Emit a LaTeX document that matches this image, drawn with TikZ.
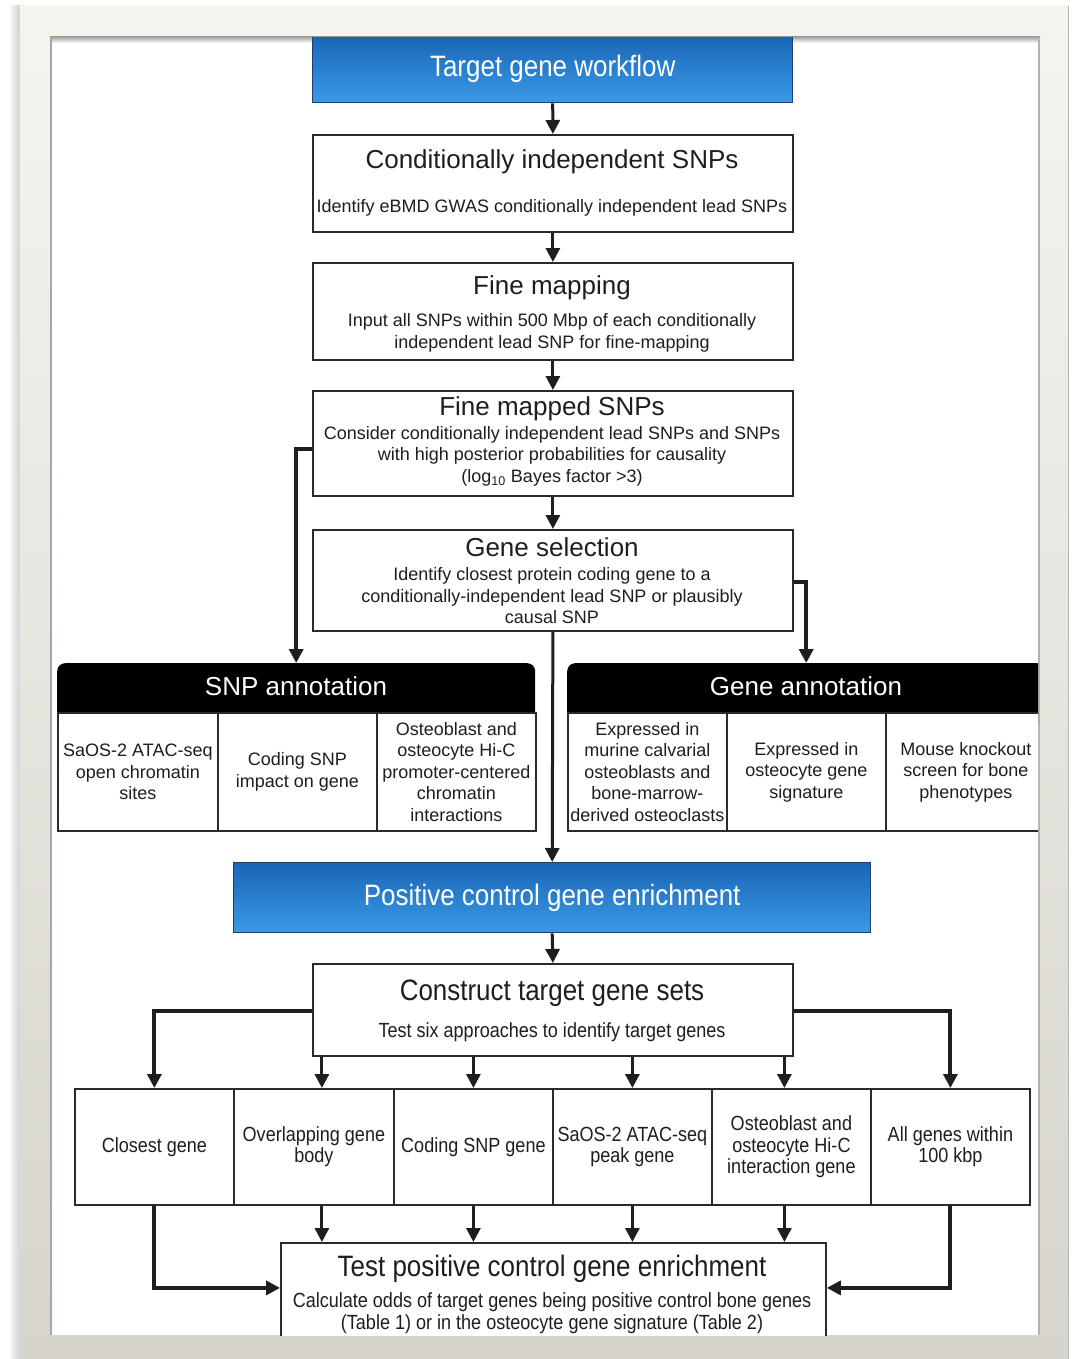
\documentclass[tikz,border=0pt]{standalone}
\usepackage{fontspec}
\setmainfont{Liberation Sans}
\newfontfamily\condfont[FakeStretch=0.88]{Liberation Sans}
\usetikzlibrary{arrows.meta,calc}
\definecolor{frameTop}{HTML}{F5F5F0}
\definecolor{frameBot}{HTML}{D6D4CC}
\definecolor{blueTop}{HTML}{1A66B6}
\definecolor{blueBot}{HTML}{3A9AE6}
\definecolor{blueLine}{HTML}{1E3F66}
\definecolor{ink}{HTML}{1E1E1E}
\definecolor{boxLine}{HTML}{2A2A2A}
\newcommand\fsz[2]{\fontsize{#1}{#2}\selectfont}
\begin{document}
\begin{tikzpicture}[x=1pt,y=-1pt,
  box/.style={draw=boxLine,line width=1.8pt,fill=white,inner sep=0pt},
  bluebox/.style={draw=blueLine,line width=1.4pt,top color=blueTop,bottom color=blueBot,text=white,font=\condfont\fsz{29.5}{33},inner sep=0pt},
  hdr/.style={fill=black,rounded corners=8pt,inner sep=0pt},
  hdrtext/.style={text=white,font=\fsz{26}{30},inner sep=0pt,text height=18.6pt,text depth=0pt},
  title/.style={text=ink,font=\fsz{26}{30},inner sep=0pt,text height=18.6pt,text depth=0pt},
  ctitle/.style={text=ink,font=\condfont\fsz{29.5}{33},inner sep=0pt,text height=21pt,text depth=0pt},
  sub/.style={text=ink,font=\fsz{18}{21.5},align=center,inner sep=0pt},
  sub1/.style={sub,text height=12.9pt,text depth=0pt},
  csub/.style={text=ink,font=\condfont\fsz{20.5}{22},align=center,inner sep=0pt},
  csub1/.style={csub,text height=14.5pt,text depth=0pt},
  cell/.style={draw=boxLine,line width=1.8pt,fill=white,inner sep=0pt,text=ink,font=\fsz{18}{21.5},align=center},
  ccell/.style={cell,font=\condfont\fsz{20.5}{21.5}},
  arr/.style={draw=ink,line width=3pt,-{Triangle[width=14pt,length=14pt]}},
  elb/.style={arr,line width=4pt}]
\useasboundingbox (0,0) rectangle (1076,1359);
% frame
\fill[white] (0,0) rectangle (1076,1359);
\shade[left color=white,right color=black!18] (8,6) rectangle (20,1359);
\shade[top color=frameTop,bottom color=frameBot] (20,6) rectangle (1068,1359);
\draw[black!30,line width=1pt] (1068,6) -- (1068,1359);
\fill[white] (50,37) rectangle (1040,1335);
\shade[top color=black!35,bottom color=white] (50,37) rectangle (1040,43);
\draw[black!35,line width=1.5pt] (51,37) -- (51,1335);
\draw[black!30,line width=1.5pt] (1039,37) -- (1039,1335);

\begin{scope}
\clip (52,38) rectangle (1038,1335);
% top chain
\node[bluebox,minimum width=480pt,minimum height=67pt,anchor=north west] (tg) at (312,35) {Target gene workflow};
\node[box,minimum width=480pt,minimum height=97pt,anchor=north west] (ci) at (312,134) {};
\node[title] (ciT) at (552,159) {Conditionally independent SNPs};
\node[sub1] (ciS) at (552,206) {Identify eBMD GWAS conditionally independent lead SNPs};

\node[box,minimum width=480pt,minimum height=97pt,anchor=north west] (fm) at (312,262) {};
\node[title] (fmT) at (552,285) {Fine mapping};
\node[sub] (fmS) at (552,333) {Input all SNPs within 500 Mbp of each conditionally\\independent lead SNP for fine-mapping};

\node[box,minimum width=480pt,minimum height=105pt,anchor=north west] (fms) at (312,390) {};
\node[title] (fmsT) at (552,406) {Fine mapped SNPs};
\node[sub] (fmsS) at (552,456) {Consider conditionally independent lead SNPs and SNPs\\with high posterior probabilities for causality\\(log\textsubscript{10} Bayes factor >3)};

\node[box,minimum width=480pt,minimum height=101pt,anchor=north west] (gs) at (312,529) {};
\node[title] (gsT) at (552,547) {Gene selection};
\node[sub] (gsS) at (552,596) {Identify closest protein coding gene to a\\conditionally-independent lead SNP or plausibly\\causal SNP};

% SNP annotation group
\node[hdr,minimum width=478pt,minimum height=60pt,anchor=north west] (snpH) at (57,663) {};
\node[hdrtext] (snpT) at (296,686) {SNP annotation};
\node[cell,minimum width=160pt,minimum height=118pt,anchor=north west] (s1) at (57,712) {SaOS-2 ATAC-seq\\open chromatin\\sites};
\node[cell,minimum width=159pt,minimum height=118pt,anchor=north west] (s2) at (217,712) {Coding SNP\\impact on gene};
\node[cell,minimum width=159pt,minimum height=118pt,anchor=north west] (s3) at (376,712) {Osteoblast and\\osteocyte Hi-C\\promoter-centered\\chromatin\\interactions};

% Gene annotation group
\node[hdr,minimum width=478pt,minimum height=60pt,anchor=north west] (gaH) at (567,663) {};
\node[hdrtext] (gaT) at (806,686) {Gene annotation};
\node[cell,minimum width=159pt,minimum height=118pt,anchor=north west] (g1) at (567,712) {Expressed in\\murine calvarial\\osteoblasts and\\bone-marrow-\\derived osteoclasts};
\node[cell,minimum width=159pt,minimum height=118pt,anchor=north west] (g2) at (726,712) {Expressed in\\osteocyte gene\\signature};
\node[cell,minimum width=160pt,minimum height=118pt,anchor=north west] (g3) at (885,712) {Mouse knockout\\screen for bone\\phenotypes};

% positive control
\node[bluebox,minimum width=637pt,minimum height=70pt,anchor=north west] (pc) at (233,862) {Positive control gene enrichment};

\node[box,minimum width=480pt,minimum height=92pt,anchor=north west] (ct) at (312,963) {};
\node[ctitle] (ctT) at (552,990) {Construct target gene sets};
\node[csub1] (ctS) at (552,1030) {Test six approaches to identify target genes};

% six approaches
\node[ccell,minimum width=159pt,minimum height=116pt,anchor=north west] (b1) at (74,1088) {Closest gene};
\node[ccell,minimum width=160pt,minimum height=116pt,anchor=north west] (b2) at (233,1088) {Overlapping gene\\body};
\node[ccell,minimum width=159pt,minimum height=116pt,anchor=north west] (b3) at (393,1088) {Coding SNP gene};
\node[ccell,minimum width=159pt,minimum height=116pt,anchor=north west] (b4) at (552,1088) {SaOS-2 ATAC-seq\\peak gene};
\node[ccell,minimum width=159pt,minimum height=116pt,anchor=north west] (b5) at (711,1088) {Osteoblast and\\osteocyte Hi-C\\interaction gene};
\node[ccell,minimum width=159pt,minimum height=116pt,anchor=north west] (b6) at (870,1088) {All genes within\\100 kbp};

\node[box,minimum width=545pt,minimum height=110pt,anchor=north west] (tp) at (280,1242) {};
\node[ctitle] (tpT) at (552,1266) {Test positive control gene enrichment};
\node[csub] (tpS) at (552,1313) {Calculate odds of target genes being positive control bone genes\\(Table 1) or in the osteocyte gene signature (Table 2)};

% connectors
\draw[arr] (tg.south) -- (ci.north);
\draw[arr] (ci.south) -- (fm.north);
\draw[arr] (fm.south) -- (fms.north);
\draw[arr] (fms.south) -- (gs.north);
\draw[elb] ($(fms.west)+(0,6)$) -| (snpH.north);
\draw[elb] ($(gs.east)+(0,2)$) -| (gaH.north);
\draw[arr] (gs.south) -- (pc.north);
\draw[arr] (pc.south) -- (ct.north);
\draw[elb] ($(ct.west)+(0,1)$) -| (b1.north);
\draw[elb] ($(ct.east)+(0,1)$) -| (b6.north);
\coordinate (a2) at ($(b2.north)+(8,0)$);
\coordinate (a5) at ($(b5.north)+(-7,0)$);
\draw[arr] (ct.south -| a2) -- (a2);
\draw[arr] (ct.south -| b3.north) -- (b3.north);
\draw[arr] (ct.south -| b4.north) -- (b4.north);
\draw[arr] (ct.south -| a5) -- (a5);
\draw[arr] (b2.south -| a2) -- (tp.north -| a2);
\draw[arr] (b3.south) -- (tp.north -| b3.south);
\draw[arr] (b4.south) -- (tp.north -| b4.south);
\draw[arr] (b5.south -| a5) -- (tp.north -| a5);
\draw[elb] (b1.south) |- ($(tp.west)+(0,-10)$);
\draw[elb] (b6.south) |- ($(tp.east)+(0,-10)$);
\end{scope}
\end{tikzpicture}
\end{document}
